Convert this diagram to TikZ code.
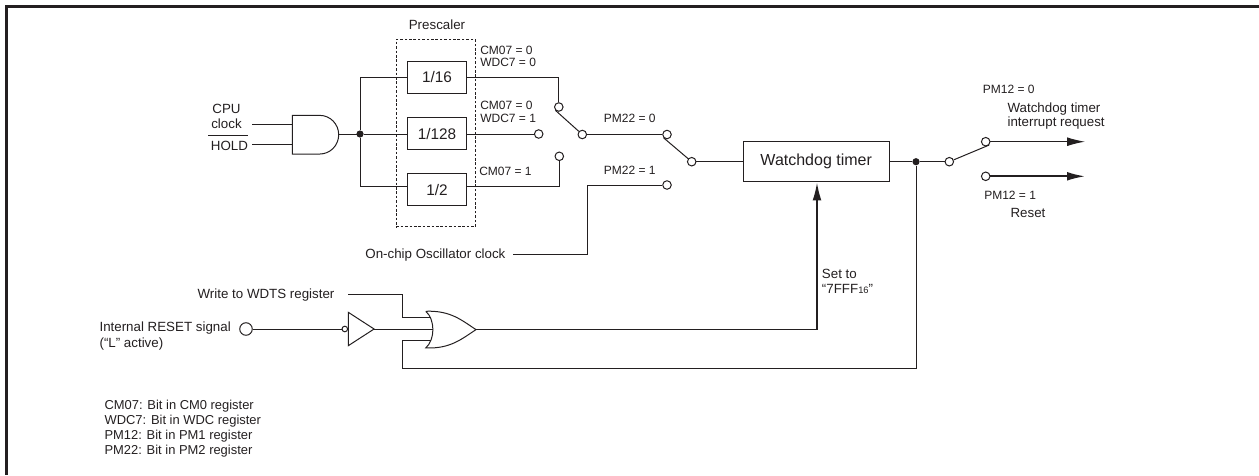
\documentclass[tikz,border=0pt]{standalone}
\usepackage{fontspec}
\setmainfont{Liberation Sans}
\usepackage{tikz}
\usetikzlibrary{
	positioning,
	calc,
	arrows.meta
}
\definecolor{WireInk}{RGB}{35,31,32}
\tikzset{
	wire/.style={draw=WireInk,line width=.75pt},
	heavywire/.style={draw=WireInk,line width=1.3pt},
	gatebox/.style={inner sep=0pt,outer sep=0pt},
	divbox/.style={draw=WireInk,line width=.75pt,minimum width=44pt,minimum height=24pt,inner sep=0pt,text=WireInk,font=\fontsize{11.5}{13}\selectfont},
	contact/.style={circle,draw=WireInk,line width=.75pt,fill=white,inner sep=0pt,minimum size=6.4pt},
	joint/.style={circle,fill=WireInk,inner sep=0pt,minimum size=5.4pt},
	txt/.style={inner sep=0pt,align=left,anchor=west,text=WireInk,font=\fontsize{10}{11.3}\selectfont},
	smalltxt/.style={inner sep=0pt,align=left,anchor=west,text=WireInk,font=\fontsize{9}{9.6}\selectfont},
	bigarrow/.style={-{Latex[length=13.5pt,width=6.6pt]}}
}

\begin{document}
\begin{tikzpicture}[x=.75pt,y=-.75pt]
				
				\useasboundingbox (0,0) rectangle (1259,475);
				\draw[WireInk,line width=1.9pt] (1259,6.5) -| (6.5,475);
				
				\node[
				draw=WireInk,
				line width=.75pt,
				dash pattern=on 2pt off 1.3pt,
				minimum width=59.2pt,
				minimum height=140.6pt,
				inner sep=0pt
				]
				(PS) at (435.8,133.2) {};
				
				\node[divbox] (D16) at (437,77.3) {1/16};
				\node[divbox,below=17.5pt of D16] (D128) {1/128};
				\node[divbox,below=17.5pt of D128] (D2) {1/2};
				
				\node[
				gatebox,
				minimum width=34.8pt,
				minimum height=29pt
				]
				(ANDG) at (315.5,134.7) {};
				\draw[wire] (ANDG.north west) -- ($(ANDG.north east)+(-19,0)$)
					to[out=0,in=90] (ANDG.east)
					to[out=-90,in=0] ($(ANDG.south east)+(-19,0)$)
					-- (ANDG.south west) -- cycle;
				
				\node[
				gatebox,
				minimum width=37.7pt,
				minimum height=27.5pt
				]
				(ORG) at (450.9,329.6) {};
				\draw[wire] (ORG.north west)
					.. controls ($(ORG.north west)+(25,-1)$) and ($(ORG.east)+(-14,-9)$) .. (ORG.east)
					.. controls ($(ORG.east)+(-14,9)$) and ($(ORG.south west)+(25,1)$) .. (ORG.south west)
					.. controls ($(ORG.west)+(9.5,10)$) and ($(ORG.west)+(9.5,-10)$) .. (ORG.north west);
				\coordinate (ORA) at (431,317.3);
				\coordinate (ORB) at (432.7,329);
				\coordinate (ORC) at (431,340.3);
				
				\node[
				gatebox,
				minimum width=19.3pt,
				minimum height=25pt
				]
				(BUF) at (361.2,329) {};
				\draw[wire] (BUF.north west) -- (BUF.east) -- (BUF.south west) -- cycle;
				\node[contact,minimum size=4.2pt] (INV) at (344.8,329) {};
				
				\node[joint] (J) at (360,134) {};
				\coordinate (JT) at (360,77.3);
				\coordinate (JB) at (360,186);
				
				\node[contact] (S1T) at (558.8,107) {};
				\node[contact] (S1M) at (538.7,134) {};
				\node[contact] (S1B) at (559.3,156.3) {};
				\node[contact] (S1O) at (582.3,134.5) {};
				
				\node[contact] (S2T) at (667,134.5) {};
				\node[contact] (S2B) at (667,185) {};
				\node[contact] (S2O) at (691.7,161.7) {};
				
				\node[
				draw=WireInk,
				line width=.75pt,
				minimum width=109.2pt,
				minimum height=30.2pt,
				inner sep=0pt,
				text=WireInk,
				font=\fontsize{12}{14}\selectfont
				]
				(WDT) at (816.2,161.7) {Watchdog timer};
				
				\node[joint] (K) at (916,161.7) {};
				\node[contact] (S3O) at (949.3,161.7) {};
				\node[contact] (S3T) at (985.7,141.7) {};
				\node[contact] (S3B) at (985.7,176.3) {};
				\coordinate (IRQ) at (1085,141.7);
				\coordinate (RST) at (1085,176.3);
				
				\node[
				circle,
				draw=WireInk,
				line width=.75pt,
				inner sep=0pt,
				minimum size=9.4pt
				]
				(RS) at (246,329) {};
				
				\coordinate (CK) at (252,124);
				\coordinate (HD) at (252,144.7);
				\coordinate (OSC) at (513.3,254.7);
				\coordinate (WR) at (348,294.3);
				\coordinate (SETC) at (817,329.6);
				\coordinate (FBC) at (916,368.7);
				\coordinate (FBL) at (402.3,368.7);
				\coordinate (WRC) at (402.3,294.3);
				
				\draw[wire] (CK) -- (CK -| ANDG.west);
				\draw[wire] (HD) -- (HD -| ANDG.west);
				\draw[wire] (ANDG.east) -- (ANDG.east -| J);
				\draw[wire] (J) -- (J -| D128.west);
				\draw[wire] (J) -- (JT) -- (D16.west);
				\draw[wire] (J) -- (JB) -- (JB -| D2.west);
				\draw[wire] (D16.east) -| (S1T);
				\draw[wire] (J -| D128.east) -- (S1M);
				\draw[wire] (JB -| D2.east) -| (S1B);
				\draw[wire] (S1O) -- (S1T.south west);
				\draw[wire] (S1O) -- (S2T);
				\draw[wire] (S2O) -- (S2T.south west);
				\draw[wire] (S2O) -- (WDT);
				\draw[wire] (OSC) -| ($(S2B)+(-79.3,0)$) -- (S2B);
				\draw[wire] (WDT) -- (K);
				\draw[wire] (K) -- (S3O);
				\draw[wire] (S3O) -- (S3T.south east);
				\draw[wire,bigarrow] (S3T) -- (IRQ);
				\draw[heavywire,bigarrow] (S3B) -- (RST);
				\draw[wire] (WR) -- (WRC) |- (ORA);
				\draw[wire] (RS) -- (INV);
				\draw[wire] (BUF.east) -- (ORB);
				\draw[wire] (K) -- (FBC) -- (FBL) |- (ORC);
				\draw[wire] (ORG.east) -- (SETC);
				\draw[heavywire,bigarrow] (SETC) -- (SETC |- WDT.south);
				
				\node[txt,anchor=center] (PSL) at (437,25) {Prescaler};
				\node[smalltxt] (L1) at (480,56.4) {CM07 = 0\\WDC7 = 0};
				\node[smalltxt] (L2) at (480,111.7) {CM07 = 0\\WDC7 = 1};
				\node[smalltxt] (L3) at (479,171.7) {CM07 = 1};
				\node[smalltxt] (L4) at (603.7,118.7) {PM22 = 0};
				\node[smalltxt] (L5) at (603.7,170.7) {PM22 = 1};
				\node[smalltxt] (L6) at (982.7,89) {PM12 = 0};
				\node[smalltxt] (L7) at (984,195.7) {PM12 = 1};
				\node[txt,font=\fontsize{10}{11}\selectfont] (L8) at (1007.3,116) {Watchdog timer\\interrupt request};
				\node[txt] (L9) at (1010.3,212.7) {Reset};
				\node[txt,align=center,anchor=center,font=\fontsize{10}{11.5}\selectfont] (L10) at (226.5,116.7) {CPU\\clock};
				\node[txt,anchor=base west] (L11) at (208,150.8) {$\overline{\mbox{\rule{0pt}{10pt}\kern2pt HOLD}}$};
				\node[txt,anchor=east] (L12) at (505.7,254.7) {On-chip Oscillator clock};
				\node[txt,anchor=east] (L13) at (334.7,295) {Write to WDTS register};
				\node[txt,font=\fontsize{10}{11.75}\selectfont] (L14) at (99.3,336.2) {Internal RESET signal\\(“L” active)};
				\node[txt] (L15) at (821.7,281.8) {Set to\\“7FFF{\fontsize{7}{8}\selectfont 16}”};
				\node[txt,font=\fontsize{9.7}{11.25}\selectfont] (L16) at (104.3,428.8) {CM07: Bit in CM0 register\\WDC7: Bit in WDC register\\PM12: Bit in PM1 register\\PM22: Bit in PM2 register};
				
			\end{tikzpicture}
\end{document}
